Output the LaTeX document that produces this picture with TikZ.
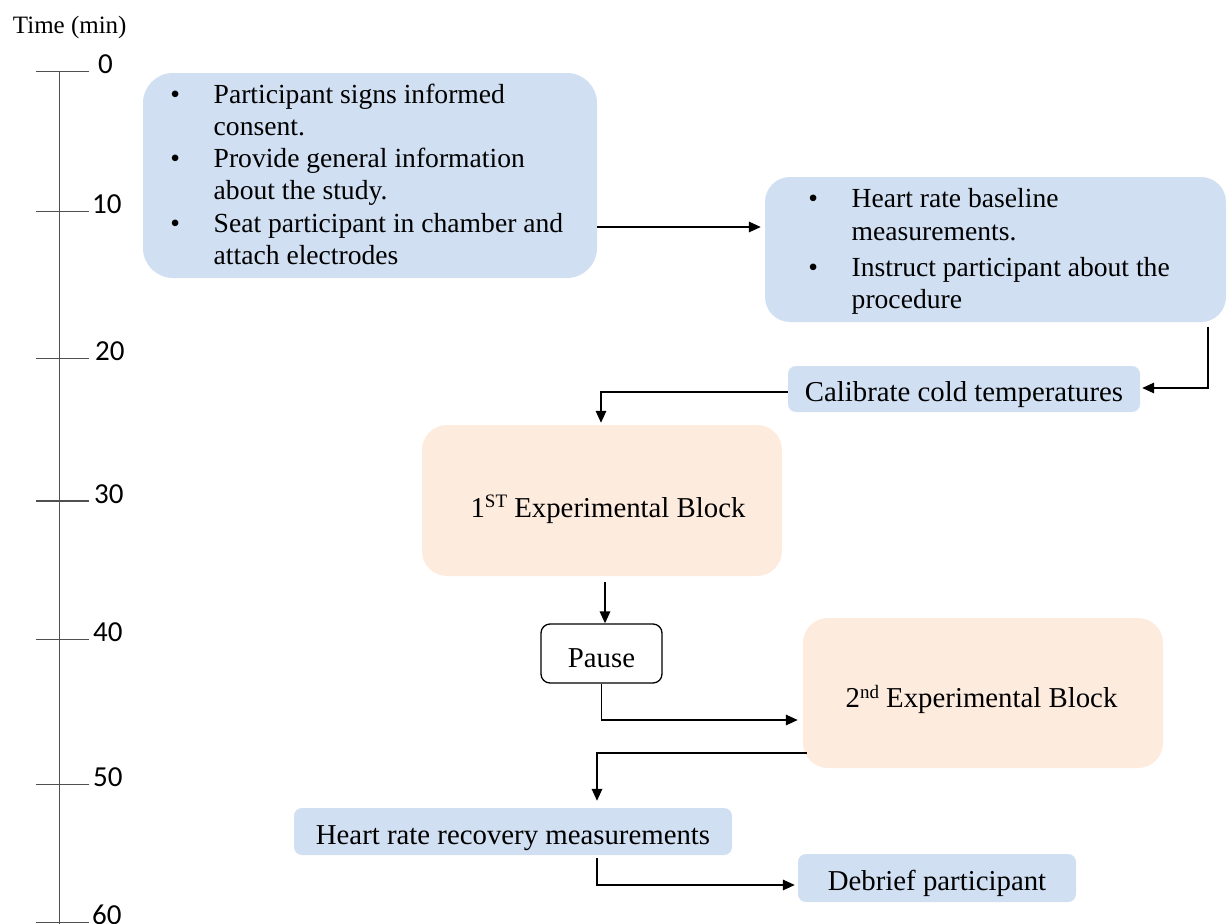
\documentclass[tikz,border=0pt]{standalone}
\usepackage{fontspec}
\setmainfont{Liberation Serif}
\newfontfamily\numfont{Carlito}
\usetikzlibrary{arrows.meta}
\definecolor{boxblue}{RGB}{208,223,242}
\definecolor{boxpeach}{RGB}{253,235,222}
\definecolor{tlgray}{RGB}{80,80,80}
\newcommand\bul{\makebox[0pt]{\textbullet}\hspace{38.5pt}}
\newcommand\cnt{\hspace*{38.5pt}}
\newcommand\bodyfont{\fontsize{27.6}{32}\selectfont}
\newcommand\boxfont{\fontsize{28.8}{32}\selectfont}
\begin{document}
\begin{tikzpicture}[x=1pt,y=-1pt,
  blue/.style={fill=boxblue, draw=none, inner sep=0pt, font=\boxfont},
  peach/.style={fill=boxpeach, draw=none, inner sep=0pt, rounded corners=25pt},
  plain/.style={inner sep=0pt, font=\bodyfont},
  pausebox/.style={fill=white, draw=black, line width=1.3pt, rounded corners=9pt, inner sep=0pt, font=\boxfont, text height=27pt, text depth=0pt},
  arr/.style={-{Triangle[length=12pt,width=10.5pt]}, line width=1.6pt},
  tline/.style={tlgray, line width=1.5pt},
  tick/.style={draw=none, font=\numfont\fontsize{29}{30}\selectfont, inner sep=0pt, anchor=base west}
]
\useasboundingbox (0,0) rectangle (1227,924);

% timeline
\node[plain, font=\fontsize{25}{28}\selectfont, anchor=base west] (title) at (12.7,33.3) {Time (min)};
\draw[tline] (59.3,71.7) -- (59.3,924);
\foreach \yy/\lab/\lx in {71.7/0/98, 211.7/10/92, 358.3/20/95, 501/30/94, 639.3/40/93, 784.3/50/93, 922.7/60/92}{
  \draw[tline] (36,\yy) -- (89,\yy);
  \node[tick] (t\lab) at (\lx,\yy+2) {\lab};
}

% boxes
\node[blue, rounded corners=30pt, minimum width=454pt, minimum height=205pt] (A) at (370,175.5) {};
\node[plain, anchor=base west] (Atext) at (175,103) {\begin{tabular}[t]{@{}l@{}}
\bul Participant signs informed\\
\cnt consent.\\
\bul Provide general information\\
\cnt about the study.\\[1pt]
\bul Seat participant in chamber and\\
\cnt attach electrodes
\end{tabular}};

\node[blue, rounded corners=25pt, minimum width=461pt, minimum height=145pt] (B) at (995.5,249.5) {};
\node[plain, anchor=base west] (Btext) at (813,207) {\begin{tabular}[t]{@{}l@{}}
\bul Heart rate baseline\\[1pt]
\cnt measurements.\\[4pt]
\bul Instruct participant about the\\
\cnt procedure
\end{tabular}};

\node[blue, rounded corners=8pt, minimum width=352pt, minimum height=46pt, text height=25pt, text depth=0pt] (C) at (964,389) {Calibrate cold temperatures};

\node[peach, minimum width=360pt, minimum height=151pt] (D) at (602,500.5) {};
\node[plain, font=\boxfont, anchor=base] (Dtext) at (608,517) {1\raisebox{9.5pt}{\fontsize{19}{19}\selectfont ST} Experimental Block};

\node[pausebox, minimum width=121pt, minimum height=59pt] (P) at (601.5,653.5) {Pause};

\node[peach, minimum width=360pt, minimum height=150pt] (E) at (983,693) {};
\node[plain, font=\boxfont, anchor=base] (Etext) at (981.5,707.5) {2\raisebox{9.5pt}{\fontsize{19}{19}\selectfont nd} Experimental Block};

\node[blue, rounded corners=8pt, minimum width=438pt, minimum height=47pt, text height=25pt, text depth=0pt] (F) at (513,831.5) {Heart rate recovery measurements};
\node[blue, rounded corners=8pt, minimum width=278pt, minimum height=48pt, text height=25pt, text depth=0pt] (G) at (937,878) {Debrief participant};

% connectors
\coordinate (aS) at ([yshift=-51.5pt]A.east);
\draw[arr, shorten >=4pt] (aS) -- (aS -| B.west);

\coordinate (bS) at ([xshift=212.5pt,yshift=-5pt]B.south);
\draw[arr] (bS) |- ([xshift=2pt,yshift=1pt]C.east);

\coordinate (dT) at ([xshift=-1pt,yshift=2pt]D.north);
\draw[arr] ([yshift=-3pt]C.west) -| (dT);

\coordinate (dS) at ([xshift=3pt,yshift=-6pt]D.south);
\draw[arr] (dS) -- (dS |- P.north);

\coordinate (eW) at ([xshift=-5pt,yshift=-27pt]E.west);
\draw[arr] (P.south) |- (eW);

\coordinate (eS) at ([xshift=4pt,yshift=-59.7pt]E.west);
\coordinate (fT) at ([xshift=84pt,yshift=7pt]F.north);
\draw[arr] (eS) -| (fT);

\coordinate (fS) at ([xshift=84pt,yshift=-3pt]F.south);
\coordinate (gW) at ([xshift=-3pt,yshift=-7pt]G.west);
\draw[arr] (fS) |- (gW);
\end{tikzpicture}
\end{document}
